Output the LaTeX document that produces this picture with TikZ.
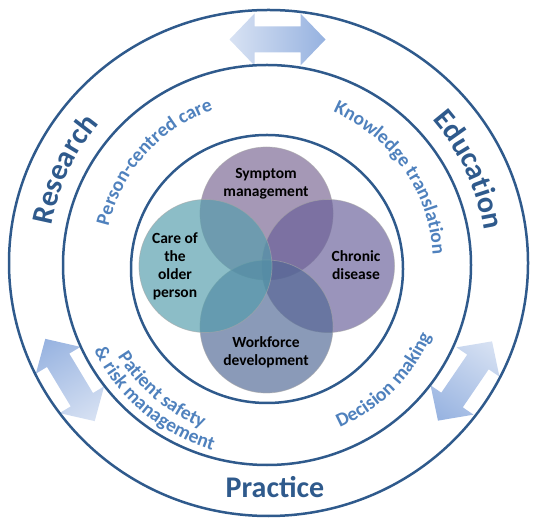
\documentclass[tikz,border=0pt]{standalone}
\usepackage{fontspec}
\setmainfont{Carlito}
\usetikzlibrary{decorations.text}
\definecolor{ringblue}{HTML}{2F5A8C}
\definecolor{labelblue}{HTML}{4F81BD}
\definecolor{arrowlight}{HTML}{D8E2F3}
\definecolor{arrowdark}{HTML}{96B2E0}
\definecolor{sympcol}{RGB}{121,101,146}
\definecolor{carecol}{RGB}{83,157,172}
\definecolor{chroncol}{RGB}{104,95,153}
\definecolor{workcol}{RGB}{81,104,149}
\newcommand{\bigfont}{\bfseries\fontsize{30}{36}\selectfont}
\newcommand{\midfont}{\bfseries\fontsize{19.5}{23}\selectfont}
\newcommand{\vennfont}{\bfseries\fontsize{15.5}{18}\selectfont}
\newcommand{\linkarrow}[2]{%
  \begin{scope}[transform canvas={shift={#1},rotate=#2}]
    \shade[left color=arrowlight,right color=arrowdark]
      (-48,0) -- (-23,26) -- (-23,13) -- (23,13) -- (23,26) -- (48,0)
      -- (23,-26) -- (23,-13) -- (-23,-13) -- (-23,-26) -- cycle;
  \end{scope}}
\begin{document}
\begin{tikzpicture}[x=1pt,y=1pt,
    ring/.style={draw=ringblue,line width=2.5pt},
    venn/.style={circle,minimum size=133pt,inner sep=0pt,fill opacity=0.67,
      draw=black!35,draw opacity=0.6,line width=0.7pt},
    venntext/.style={font=\vennfont,align=center,text=black},
    arctext/.style={decorate,decoration={text along path,text align=center,text={#1}}}]
  \useasboundingbox (0,0) rectangle (537,524);
  \coordinate (c) at (267.5,260);
  \linkarrow{(277.5,484.5)}{0}
  \linkarrow{(70,144)}{121}
  \linkarrow{(465,143)}{235.7}
  \draw[ring] (268.5,261) ellipse [x radius=259.5,y radius=253];
  \draw[ring] (267,259) ellipse [x radius=204,y radius=200];
  \draw[ring] (267,255) ellipse [x radius=136,y radius=134];
  \node[venn,fill=sympcol] (symptom) at (266.5,310.5) {};
  \node[venn,fill=chroncol] (chronic) at (328,258) {};
  \node[venn,fill=workcol] (workforce) at (266.5,197.5) {};
  \node[venn,fill=carecol] (care) at (205.5,258) {};
  \node[venntext] (symtext) at (266,340) {Symptom\\management};
  \node[venntext] (caretext) at (175,258) {Care of\\the\\older\\person};
  \node[venntext] (chrontext) at (356,258.5) {Chronic\\disease};
  \node[venntext] (worktext) at (266,171.5) {Workforce\\development};
  \path[arctext={|\bigfont\color{ringblue}|Research}] ([shift={(215:219)}]c) arc[start angle=215,end angle=95,radius=219];
  \path[arctext={|\bigfont\color{ringblue}|Education}] ([shift={(85:219)}]c) arc[start angle=85,end angle=-35,radius=219];
  \node[font=\bigfont,text=ringblue,anchor=base] (practice) at (275,27) {Practice};
  \path[arctext={|\midfont\color{labelblue}|Person-centred care}] ([shift={(198:163.5)}]c) arc[start angle=198,end angle=78,radius=163.5];
  \path[arctext={|\midfont\color{labelblue}|Knowledge translation}] ([shift={(95:165.5)}]c) arc[start angle=95,end angle=-25,radius=165.5];
  \path[arctext={|\midfont\color{labelblue}|Decision making}] ([shift={(-105:179)}]c) arc[start angle=-105,end angle=15,radius=179];
  \path[arctext={|\midfont\color{labelblue}|Patient safety}] ([shift={(170:176)}]c) arc[start angle=170,end angle=290,radius=176];
  \path[arctext={|\midfont\color{labelblue}|{\&} risk management}] ([shift={(170:194)}]c) arc[start angle=170,end angle=290,radius=194];
\end{tikzpicture}
\end{document}
